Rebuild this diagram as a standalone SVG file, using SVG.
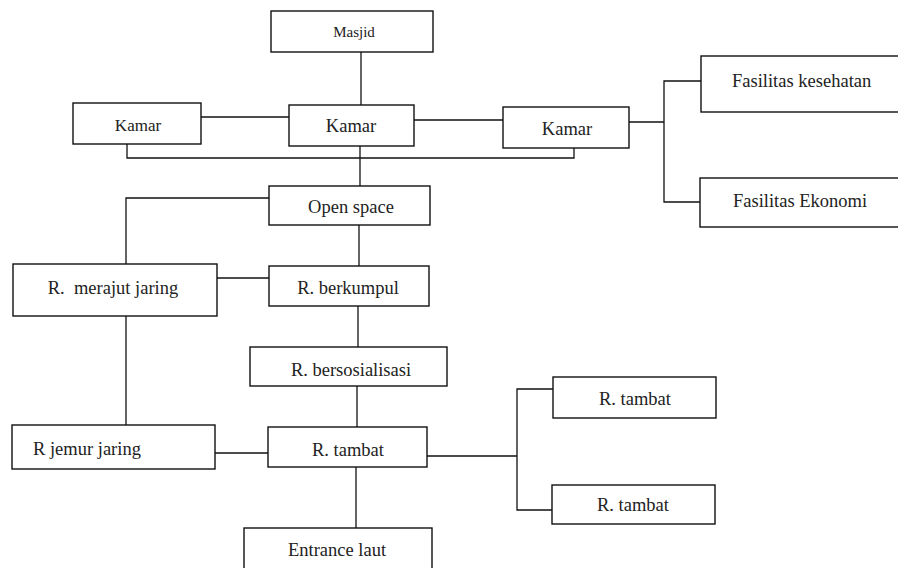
<svg xmlns="http://www.w3.org/2000/svg" width="898" height="568" viewBox="0 0 898 568">
<style>
rect{fill:#fff;stroke:#111;stroke-width:1.4}
text{font-family:"Liberation Serif","Times New Roman",serif;fill:#222;font-size:18.5px}
.c{text-anchor:middle}
.s{font-size:15px}
.k{font-size:17px}
#connectors path{fill:none;stroke:#111;stroke-width:1.3}
</style>
<rect x="0" y="0" width="898" height="568" style="fill:#fff;stroke:none"/>
<g id="connectors">
<path d="M361 52V105"/>
<path d="M201 117H289"/>
<path d="M414 120H503"/>
<path d="M629 122H664"/>
<path d="M701 81H664V202H700"/>
<path d="M127 144V158H574V148"/>
<path d="M360 146V186"/>
<path d="M269 198H126V264"/>
<path d="M359 225V266"/>
<path d="M217 278H269"/>
<path d="M358 306V347"/>
<path d="M126 316V425"/>
<path d="M357 386V427"/>
<path d="M215 453H268"/>
<path d="M356 467V528"/>
<path d="M427 456H517"/>
<path d="M553 389H517V510H571"/>
</g>
<g id="masjid"><rect x="271" y="11" width="162" height="41"/><text class="c s" x="354" y="37">Masjid</text></g>
<g id="kamar-left"><rect x="73" y="103" width="128" height="41"/><text class="c k" x="138" y="131">Kamar</text></g>
<g id="kamar-center"><rect x="289" y="105" width="125" height="41"/><text class="c" x="351" y="132">Kamar</text></g>
<g id="kamar-right"><rect x="503" y="107" width="126" height="41"/><text class="c" x="567" y="135">Kamar</text></g>
<g id="fasilitas-kesehatan"><rect x="701" y="56" width="200" height="56"/><text x="732" y="87">Fasilitas kesehatan</text></g>
<g id="fasilitas-ekonomi"><rect x="700" y="178" width="201" height="49"/><text x="733" y="207">Fasilitas Ekonomi</text></g>
<g id="open-space"><rect x="269" y="186" width="161" height="39"/><text class="c" x="351" y="213">Open space</text></g>
<g id="merajut-jaring"><rect x="13" y="264" width="204" height="52"/><text class="c" x="113" y="294">R.&#160; merajut jaring</text></g>
<g id="berkumpul"><rect x="269" y="266" width="160" height="40"/><text class="c" x="348" y="294">R. berkumpul</text></g>
<g id="bersosialisasi"><rect x="250" y="347" width="197" height="39"/><text class="c" x="351" y="376">R. bersosialisasi</text></g>
<g id="jemur-jaring"><rect x="12" y="425" width="203" height="44"/><text x="33" y="455">R jemur jaring</text></g>
<g id="tambat-center"><rect x="268" y="427" width="159" height="40"/><text class="c" x="348" y="456">R. tambat</text></g>
<g id="entrance-laut"><rect x="244" y="528" width="188" height="45"/><text class="c" x="337" y="556">Entrance laut</text></g>
<g id="tambat-1"><rect x="553" y="377" width="163" height="41"/><text class="c" x="635" y="405">R. tambat</text></g>
<g id="tambat-2"><rect x="552" y="485" width="163" height="39"/><text class="c" x="633" y="511">R. tambat</text></g>
</svg>
